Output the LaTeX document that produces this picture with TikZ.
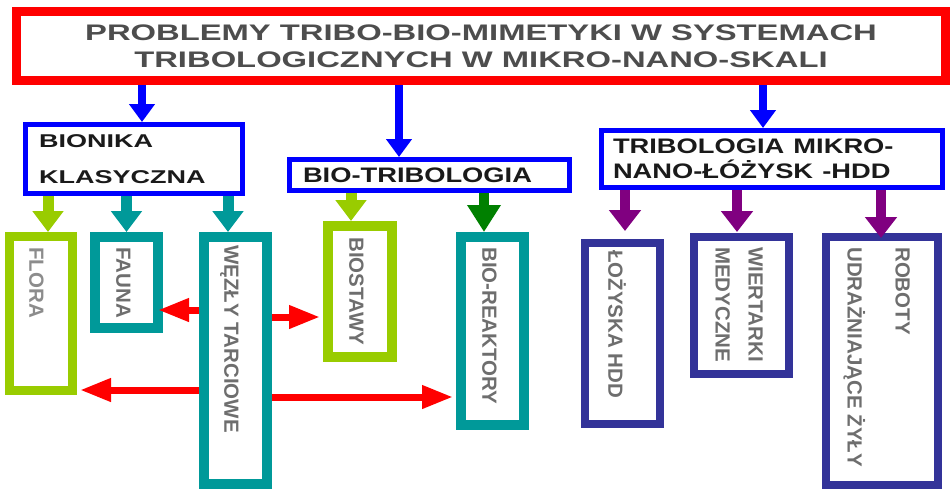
\documentclass[tikz,border=0pt]{standalone}
\usepackage{fontspec}
\setmainfont{Liberation Sans}
\usepackage{graphicx}
\usetikzlibrary{arrows.meta,calc}
\definecolor{cRed}{HTML}{FF0000}
\definecolor{cBlue}{HTML}{0000FF}
\definecolor{cLime}{HTML}{99CC00}
\definecolor{cTeal}{HTML}{009999}
\definecolor{cGreen}{HTML}{008000}
\definecolor{cPurple}{HTML}{800080}
\definecolor{cNavy}{HTML}{333399}
\definecolor{cTitle}{HTML}{4D4D4D}
\definecolor{cDark}{HTML}{1A1A1A}
\definecolor{cGray}{HTML}{6E6E6E}
\definecolor{cLight}{HTML}{8C8C8C}
\newcommand{\wtxt}[2]{\scalebox{#1}[1]{#2}}
\begin{document}
\begin{tikzpicture}[x=1pt,y=-1pt,
  box/.style={draw, rectangle, inner sep=0pt},
  topbox/.style={box, draw=cBlue, line width=5pt, align=left, text=cDark},
  lowbox/.style={box, line width=10pt},
  vtext/.style={rotate=-90, anchor=base west, inner sep=0pt, font=\fontsize{20.5}{24}\selectfont\bfseries, text=cGray},
  bluearr/.style={draw=cBlue, line width=8pt, -{Triangle[width=25pt,length=18pt]}},
  downarr/.style={draw=#1, line width=11pt, -{Triangle[width=30pt,length=21pt]}},
  purparr/.style={draw=cPurple, line width=10pt, -{Triangle[width=31pt,length=21pt]}},
  redarr/.style={draw=cRed, line width=7pt, -{Triangle[width=22pt,length=31pt]}}
]
\useasboundingbox (0,0) rectangle (952,490);

% title
\node[box, draw=cRed, line width=9pt, minimum width=929pt, minimum height=69pt,
      align=center, text=cTitle, font=\fontsize{22.5}{27}\selectfont\bfseries] (title) at (481,46)
  {\wtxt{1.456}{PROBLEMY TRIBO-BIO-MIMETYKI W SYSTEMACH}\\\wtxt{1.456}{TRIBOLOGICZNYCH W MIKRO-NANO-SKALI}};

% second level
\node[topbox, minimum width=217pt, minimum height=69pt, text width=190pt, inner xsep=13.5pt,
      font=\fontsize{18.5}{36}\selectfont\bfseries] (bionika) at (134,159)
  {\wtxt{1.46}{BIONIKA}\\\wtxt{1.46}{KLASYCZNA}};
\node[topbox, minimum width=280pt, minimum height=31pt, text width=253pt, inner xsep=13.5pt,
      font=\fontsize{21}{25}\selectfont\bfseries] (biotrib) at (429.5,175)
  {\wtxt{1.30}{BIO-TRIBOLOGIA}};
\node[topbox, minimum width=341pt, minimum height=57pt, text width=318pt, inner xsep=11.5pt,
      font=\fontsize{21}{25}\selectfont\bfseries] (tribmn) at (772,159)
  {\wtxt{1.30}{TRIBOLOGIA MIKRO-}\\\wtxt{1.30}{NANO-ŁÓŻYSK -HDD}};

% lower boxes
\node[lowbox, draw=cLime, line width=9pt, minimum width=63pt, minimum height=154pt] (flora) at (41,313.5) {};
\node[lowbox, draw=cTeal, minimum width=63pt, minimum height=91pt] (fauna) at (126.5,282.5) {};
\node[lowbox, draw=cTeal, minimum width=63pt, minimum height=247pt] (wezly) at (235.5,360.5) {};
\node[lowbox, draw=cLime, minimum width=64pt, minimum height=131pt] (biostawy) at (360,291.5) {};
\node[lowbox, draw=cTeal, minimum width=63pt, minimum height=188pt] (bioreak) at (492.5,331) {};
\node[lowbox, draw=cNavy, line width=8pt, minimum width=75pt, minimum height=181pt] (lozyska) at (622.5,333.5) {};
\node[lowbox, draw=cNavy, line width=8pt, minimum width=95pt, minimum height=137pt] (wiert) at (741.5,305.5) {};
\node[lowbox, draw=cNavy, line width=8pt, minimum width=112pt, minimum height=248pt] (roboty) at (882,361) {};

% vertical texts
\node[vtext, text=cLight] (floratxt) at (29.3,247) {FLORA};
\node[vtext] (faunatxt) at (116.3,247) {FAUNA};
\node[vtext] (wezlytxt) at (224.3,245) {WĘZŁY TARCIOWE};
\node[vtext] (biostawytxt) at (349.3,237) {BIOSTAWY};
\node[vtext] (bioreaktxt) at (482.3,247) {BIO-REAKTORY};
\node[vtext] (lozyskatxt) at (608.3,250) {ŁOŻYSKA HDD};
\node[vtext, anchor=north west, align=left, font=\fontsize{20.5}{33}\selectfont\bfseries] (wierttxt) at (763,247) {WIERTARKI\\MEDYCZNE};
\node[vtext, anchor=north west, align=left, font=\fontsize{20.5}{48}\selectfont\bfseries] (robotytxt) at (910,247) {ROBOTY\\UDRAŻNIAJĄCE ŻYŁY};

% arrows from title
\draw[bluearr] ($(title.south -| bionika.north)+(8,0)$) -- ($(bionika.north)+(8,0)$);
\draw[bluearr] ($(title.south -| biotrib.north)+(-30.5,0)$) -- ($(biotrib.north)+(-30.5,0)$);
\draw[bluearr] ($(title.south -| tribmn.north)+(-9,0)$) -- ($(tribmn.north)+(-9,0)$);

% arrows from BIONIKA
\draw[downarr=cLime] ($(bionika.south -| flora.north)+(7,0)$) -- ($(flora.north)+(7,0)$);
\draw[downarr=cTeal] (bionika.south -| fauna.north) -- (fauna.north);
\draw[downarr=cTeal] ($(bionika.south -| wezly.north)+(-7.5,0)$) -- ($(wezly.north)+(-7.5,0)$);

% arrows from BIO-TRIBOLOGIA
\draw[downarr=cLime] ($(biotrib.south -| biostawy.north)+(-9,0)$) -- ($(biostawy.north)+(-9,0)$);
\draw[draw=cGreen, line width=10pt, -{Triangle[width=32pt,length=27pt]}] ($(biotrib.south -| bioreak.north)+(-8.5,0)$) -- ($(bioreak.north)+(-8.5,0)$);

% arrows from TRIBOLOGIA MIKRO-NANO
\draw[purparr] ($(tribmn.south -| lozyska.north)+(2.5,0)$) -- ($(lozyska.north)+(2.5,-8)$);
\draw[purparr] ($(tribmn.south -| wiert.north)+(-4.5,0)$) -- ($(wiert.north)+(-4.5,-1)$);
\draw[purparr] ($(tribmn.south -| roboty.north)+(-1,0)$) -- ($(roboty.north)+(-1,5)$);

% red arrows
\draw[redarr] ($(wezly.west)+(0,-50.5)$) -- ($(fauna.east)+(-5,27.5)$);
\draw[redarr] ($(wezly.west)+(0,29.5)$) -- ($(flora.east)+(3,76.5)$);
\draw[redarr] ($(wezly.east)+(0,-43.5)$) -- ($(biostawy.west)+(-3,25.5)$);
\draw[redarr] ($(wezly.east)+(0,36.5)$) -- ($(bioreak.west)+(-3,66)$);
\end{tikzpicture}
\end{document}
